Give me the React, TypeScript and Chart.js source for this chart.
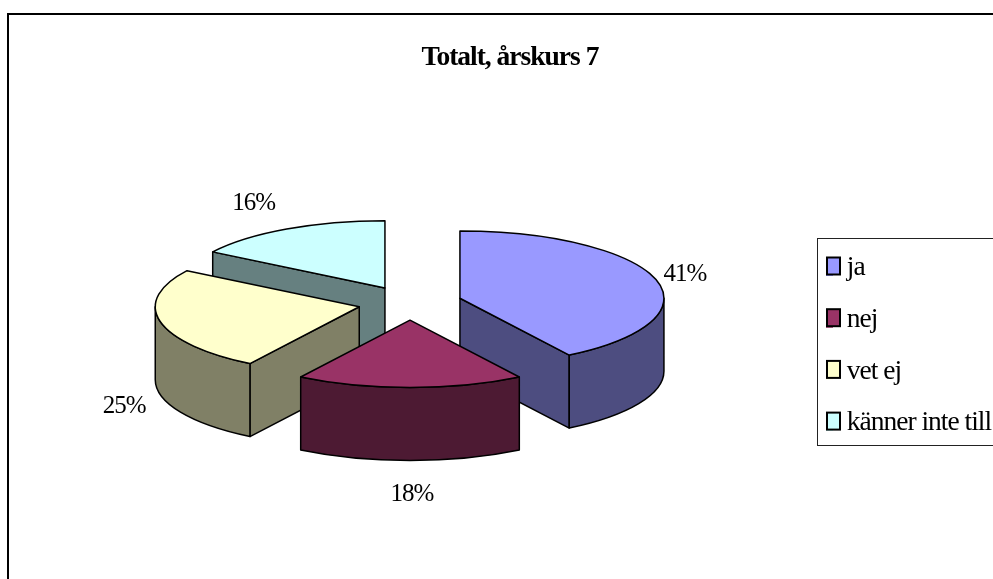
import React, { useEffect, useRef } from "react";
import { Chart, registerables } from "chart.js";

Chart.register(...registerables);

const categories = ["ja", "nej", "vet ej", "känner inte till"];
const values = [41, 18, 25, 16];
const topColors = ["#9999FF", "#993366", "#FFFFCC", "#CCFFFF"];
const wallColors = ["#4D4D80", "#4D1A33", "#808066", "#668080"];
const titleText = "Totalt, årskurs 7";

const SERIF = '"Liberation Serif", "Times New Roman", serif';
const RATIO = 0.33;
const DEPTH = 73;
const EXPLODE = 52;
const LINE = 1.5;
const LABEL_NUDGE = [
  [29, -5],
  [2, 107],
  [-36, 85],
  [-33, -26],
];

const pie3d = {
  id: "pie3d",
  afterLayout(chart: any) {
    const lg = chart.legend;
    Object.assign(lg, { left: 801.8, right: 1020, top: 230, bottom: 570, width: 218.2, height: 340 });
    Object.assign(chart.chartArea, { left: 0, right: 820, top: 45, bottom: 561, width: 820, height: 516 });
  },
  beforeDraw(chart: any) {
    const ctx = chart.ctx;
    ctx.letterSpacing = "-1px";
    ctx.save();
    ctx.fillStyle = "#fff";
    ctx.fillRect(0, 0, chart.width, chart.height);
    ctx.fillStyle = "#000";
    ctx.fillRect(7, 13, chart.width, 2);
    ctx.fillRect(7, 13, 2, chart.height);
    ctx.strokeStyle = "#222";
    ctx.lineWidth = 1;
    ctx.strokeRect(817.5, 238.5, 400, 207);
    ctx.restore();
  },
  beforeDatasetsDraw(chart: any) {
    const ctx = chart.ctx;
    const meta = chart.getDatasetMeta(0);
    const arcs = meta.data.map((el: any, i: number) => {
      const mid = (el.startAngle + el.endAngle) / 2;
      const dx = Math.cos(mid) * EXPLODE;
      const dy = Math.sin(mid) * EXPLODE;
      return { el, i, mid, dx, dy, ox: el.x + dx, oy: el.y + dy * RATIO };
    });
    const order = [...arcs].sort((a, b) => a.oy - b.oy);
    for (const { el, i, dx, dy, ox, oy } of order) {
      const r = el.outerRadius;
      const a0 = el.startAngle;
      const a1 = el.endAngle;
      const pt = (a: number) => [ox + r * Math.cos(a), oy + r * RATIO * Math.sin(a)];
      ctx.save();
      ctx.lineJoin = "round";
      ctx.lineWidth = LINE;
      ctx.strokeStyle = "#000";
      ctx.fillStyle = wallColors[i];
      // radial faces, only those turned towards the viewer
      const faces: number[] = [];
      if (-Math.cos(a0) > 1e-6) faces.push(a0);
      if (Math.cos(a1) > 1e-6) faces.push(a1);
      for (const a of faces) {
        const [px, py] = pt(a);
        ctx.beginPath();
        ctx.moveTo(ox, oy);
        ctx.lineTo(px, py);
        ctx.lineTo(px, py + DEPTH);
        ctx.lineTo(ox, oy + DEPTH);
        ctx.closePath();
        ctx.fill();
        ctx.stroke();
      }
      // curved outer wall, the part that faces the viewer
      const visStart = Math.max(a0, 0);
      const visEnd = Math.min(a1, Math.PI);
      if (visEnd > visStart) {
        ctx.beginPath();
        ctx.ellipse(ox, oy, r, r * RATIO, 0, visStart, visEnd);
        ctx.ellipse(ox, oy + DEPTH, r, r * RATIO, 0, visEnd, visStart, true);
        ctx.closePath();
        ctx.fill();
        ctx.stroke();
      }
      // top face, drawn by the arc element itself in a flattened space
      ctx.save();
      ctx.translate(dx, el.y);
      ctx.scale(1, RATIO);
      ctx.translate(0, -el.y + dy);
      el.draw(ctx);
      ctx.restore();
      ctx.beginPath();
      ctx.moveTo(ox, oy);
      ctx.ellipse(ox, oy, r, r * RATIO, 0, a0, a1);
      ctx.closePath();
      ctx.stroke();
      ctx.restore();
    }
    // percentage labels
    const total = values.reduce((s, v) => s + v, 0);
    ctx.save();
    ctx.font = `25px ${SERIF}`;
    ctx.fillStyle = "#000";
    ctx.textAlign = "center";
    ctx.textBaseline = "middle";
    for (const { el, i, mid, ox, oy } of arcs) {
      const r = el.outerRadius;
      const x = ox + r * Math.cos(mid) + LABEL_NUDGE[i][0];
      const y = oy + r * RATIO * Math.sin(mid) + LABEL_NUDGE[i][1];
      ctx.fillText(`${Math.round((values[i] / total) * 100)}%`, x, y);
    }
    ctx.restore();
    return false;
  },
  afterDraw(chart: any) {
    const ctx = chart.ctx;
    ctx.save();
    ctx.lineWidth = 2;
    ctx.strokeStyle = "#000";
    topColors.forEach((c, i) => {
      const cy = 266 + i * 51.7;
      ctx.fillStyle = c;
      ctx.fillRect(827, cy - 8.5, 13, 17);
      ctx.strokeRect(827, cy - 8.5, 13, 17);
    });
    ctx.restore();
  },
};

export default function App() {
  const ref = useRef<HTMLCanvasElement | null>(null);
  useEffect(() => {
    const chart = new Chart(ref.current as HTMLCanvasElement, {
      type: "pie",
      data: {
        labels: categories,
        datasets: [
          {
            data: values,
            backgroundColor: topColors,
            borderWidth: 0,
            radius: 204,
          } as any,
        ],
      },
      options: {
        animation: false,
        responsive: false,
        events: [],
        plugins: {
          tooltip: { enabled: false },
          title: {
            display: true,
            text: titleText,
            color: "#000",
            font: { family: SERIF, size: 27.5, weight: "bold" },
            padding: { top: 41, bottom: 0 },
          },
          legend: {
            position: "right",
            align: "start",
            labels: {
              color: "#000",
              font: { family: SERIF, size: 27.5 },
              boxWidth: 7,
              boxHeight: 16,
              padding: 24.2,
            },
          },
        },
      },
      plugins: [pie3d as any],
    });
    return () => chart.destroy();
  }, []);
  return (
    <div style={{ position: "fixed", left: 0, top: 0, width: 993, height: 579, overflow: "hidden", background: "#fff" }}>
      <canvas ref={ref} width={1020} height={579} style={{ display: "block" }} />
    </div>
  );
}
